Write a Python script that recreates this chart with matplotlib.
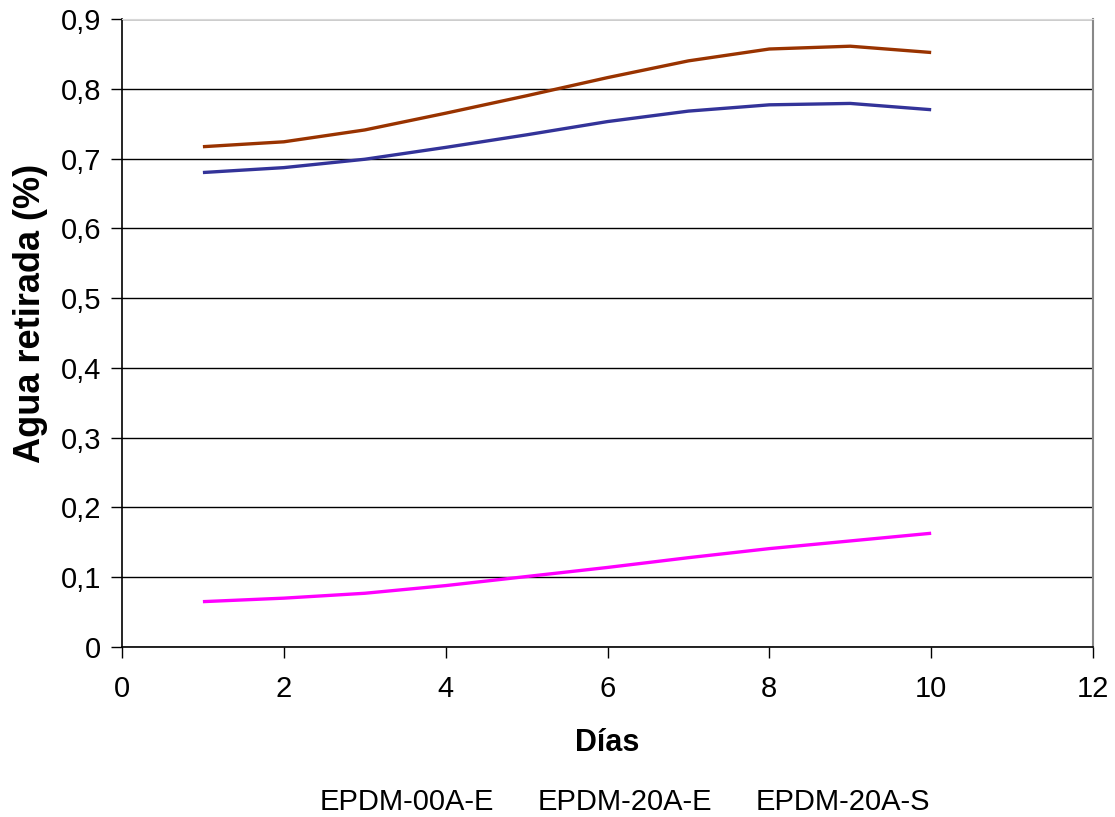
import matplotlib
matplotlib.use("Agg")
import matplotlib.pyplot as plt
from matplotlib.ticker import FuncFormatter, MultipleLocator
from matplotlib.lines import Line2D

plt.rcParams['font.family'] = ['Liberation Sans', 'DejaVu Sans']

dias = [1, 2, 3, 4, 5, 6, 7, 8, 9, 10]
epdm_00a_e = [0.680, 0.687, 0.699, 0.716, 0.734, 0.753, 0.768, 0.777, 0.779, 0.770]
epdm_20a_e = [0.065, 0.070, 0.077, 0.088, 0.101, 0.114, 0.128, 0.141, 0.152, 0.163]
epdm_20a_s = [0.717, 0.724, 0.741, 0.765, 0.790, 0.816, 0.840, 0.857, 0.861, 0.852]
series_names = ['EPDM-00A-E', 'EPDM-20A-E', 'EPDM-20A-S']
colors = ['#333399', '#FF00FF', '#993300']

fig = plt.figure(figsize=(11.15, 8.17), dpi=100)
ax = fig.add_axes([122/1115, 1-647/817, (1093-122)/1115, (647-19)/817])

for ys, c in zip([epdm_00a_e, epdm_20a_e, epdm_20a_s], colors):
    ax.plot(dias, ys, color=c, lw=2.4, solid_capstyle='butt', solid_joinstyle='round')

ax.set_xlim(0, 12)
ax.set_ylim(0, 0.9)
ax.xaxis.set_major_locator(MultipleLocator(2))
ax.yaxis.set_major_locator(MultipleLocator(0.1))
fmt = FuncFormatter(lambda v, p: ('%g' % round(v, 2)).replace('.', ','))
ax.yaxis.set_major_formatter(fmt)
ax.xaxis.set_major_formatter(FuncFormatter(lambda v, p: '%d' % v))
ax.yaxis.grid(True, color='black', lw=1)
ax.set_axisbelow(True)
ax.tick_params(axis='both', direction='out', length=8, width=1, labelsize=21, color='black')
ax.tick_params(axis='x', pad=12)
ax.tick_params(axis='y', pad=7)
ax.spines['top'].set_color('#d8d8d8')
ax.spines['right'].set_color('#888888')
ax.spines['right'].set_linewidth(1.5)
for s in ['left', 'bottom']:
    ax.spines[s].set_color('black')
    ax.spines[s].set_linewidth(1.2)

ax.set_xlabel('Días', fontsize=22, fontweight='bold', labelpad=18)
ax.set_ylabel('Agua retirada (%)', fontsize=26, fontweight='bold', labelpad=10)
ax.yaxis.set_label_coords(-0.076, 1 - (313 - 19) / 628)

handles = [Line2D([], [], color='none') for _ in series_names]
fig.legend(handles, series_names, loc='center', bbox_to_anchor=(625/1115, 1-802/817),
           ncol=3, frameon=False, fontsize=21, handlelength=0, handletextpad=0,
           columnspacing=1.5)

fig.savefig('out.png', dpi=100)
